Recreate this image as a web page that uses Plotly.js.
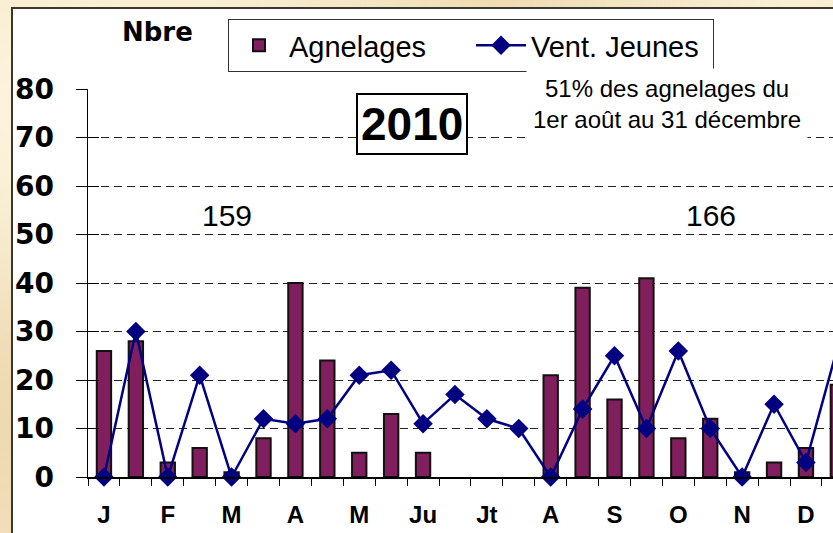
<!DOCTYPE html>
<html>
<head>
<meta charset="utf-8">
<script src="https://cdn.plot.ly/plotly-3.0.1.min.js"></script>
<style>
html,body{margin:0;padding:0;width:833px;height:533px;overflow:hidden;}
body{background:#f6e8c8;
background-image:
 radial-gradient(ellipse at 10% 20%, rgba(255,248,228,0.8) 0%, rgba(255,248,228,0) 40%),
 radial-gradient(ellipse at 5% 80%, rgba(232,210,165,0.7) 0%, rgba(232,210,165,0) 45%),
 radial-gradient(ellipse at 60% 0%, rgba(236,214,170,0.7) 0%, rgba(236,214,170,0) 40%),
 radial-gradient(ellipse at 90% 5%, rgba(250,240,215,0.9) 0%, rgba(250,240,215,0) 35%);}
#frame{position:absolute;left:11px;top:7px;width:822px;height:526px;border-left:2px solid #3a3631;border-top:2px solid #3a3631;background:#fff;}
#chart{width:822px;height:526px;}
</style>
</head>
<body>
<div id="frame"><div id="chart"></div></div>
<script>
// ---- data ----
var months = ["J","F","M","A","M","Ju","Jt","A","S","O","N","D"];
var agnelages = [26,28,3,6,1,8,40,24,5,13,5,null,null,null,21,39,16,41,8,12,1,3,6,19];
var ventJeunes = [0,30,0,21,0,12,11,12,21,22,11,17,12,10,0,14,25,10,26,10,0,15,3,27];
var totals = ["159","166"];

var slots = agnelages.map(function(v,i){return i;});
var monthPos = months.map(function(m,i){return i*2;});

// ---- geometry ----
var W = 822, H = 526;
var ml = 75, mr = 0, mt = 80, mb = 58;
var pw = W - ml - mr, ph = H - mt - mb;
var OX = 13, OY = 9;
function fx(p){return (p - OX - ml)/pw;}
function fy(p){return 1 - (p - OY - mt)/ph;}

var barTrace = {
  type:'bar', name:'Agnelages', x:slots, y:agnelages,
  marker:{color:'#811f5e', line:{color:'#111', width:2}},
  xaxis:'x', yaxis:'y'
};
var lineTrace = {
  type:'scatter', mode:'lines+markers', name:'Vent. Jeunes', x:slots, y:ventJeunes,
  line:{color:'#000080', width:2.5},
  marker:{symbol:'diamond', size:15, color:'#000080'},
  cliponaxis:false,
  xaxis:'x', yaxis:'y2'
};

var layout = {
  width:W, height:H,
  margin:{l:ml, r:mr, t:mt, b:mb, pad:0},
  paper_bgcolor:'#fff', plot_bgcolor:'#fff',
  bargap:0.55,
  showlegend:true,
  legend:{orientation:'h', x:fx(228), xanchor:'left', y:fy(19), yanchor:'top',
    bgcolor:'#fff', bordercolor:'#333', borderwidth:1,
    font:{family:'Liberation Sans, Arial, sans-serif', size:29, color:'#000'},
    itemwidth:50, entrywidth:177, traceorder:'normal'},
  xaxis:{range:[-0.5, 22.91], tickmode:'array', tickvals:monthPos, ticktext:months,
    ticks:'', showgrid:false, zeroline:false, showline:true, linecolor:'#000', linewidth:1.5,
    ticklabelstandoff:16,
    tickfont:{family:'Liberation Sans, Arial, sans-serif', size:24, color:'#000', weight:'bold'},
    minor:{tickmode:'linear', tick0:-0.5, dtick:1, ticks:'outside', ticklen:7, tickcolor:'#000', tickwidth:1, showgrid:false},
    fixedrange:true},
  yaxis:{range:[0,80], tickmode:'linear', tick0:0, dtick:10,
    ticks:'outside', ticklen:11, tickcolor:'#000', tickwidth:1,
    showline:true, linecolor:'#000', linewidth:1.5,
    showgrid:true, gridcolor:'#222', gridwidth:1, griddash:'8px,5px',
    zeroline:false, ticklabelstandoff:16,
    tickfont:{family:'DejaVu Sans, sans-serif', size:28, color:'#000', weight:'bold'},
    fixedrange:true},
  yaxis2:{range:[0,80], overlaying:'y', side:'left', tickmode:'linear', tick0:0, dtick:10,
    ticks:'inside', ticklen:11, tickcolor:'#000', tickwidth:1,
    showticklabels:false, showgrid:false, zeroline:false, showline:false, fixedrange:true},
  annotations:[
    {xref:'paper', yref:'paper', x:fx(157), y:fy(32), text:'<b>Nbre</b>', showarrow:false,
     xanchor:'center', yanchor:'middle',
     font:{family:'DejaVu Sans, sans-serif', size:26, color:'#000'}},
    {xref:'paper', yref:'paper', x:fx(411.5), y:fy(124), text:'<b>2010</b>', showarrow:false,
     xanchor:'center', yanchor:'middle', bgcolor:'#fff', bordercolor:'#000', borderwidth:2, borderpad:3,
     font:{family:'Liberation Sans, Arial, sans-serif', size:46, color:'#000'}},
    {xref:'paper', yref:'paper', x:fx(227), y:fy(215), text:totals[0], showarrow:false,
     xanchor:'center', yanchor:'middle',
     font:{family:'Liberation Sans, Arial, sans-serif', size:30, color:'#000'}},
    {xref:'paper', yref:'paper', x:fx(711), y:fy(215), text:totals[1], showarrow:false,
     xanchor:'center', yanchor:'middle',
     font:{family:'Liberation Sans, Arial, sans-serif', size:30, color:'#000'}},
    {xref:'paper', yref:'paper', x:fx(667), y:fy(104), text:'51% des agnelages du<br>1er août au 31 décembre', showarrow:false,
     xanchor:'center', yanchor:'middle', bgcolor:'#fff', borderpad:6, align:'center',
     font:{family:'Liberation Sans, Arial, sans-serif', size:24, color:'#000'}}
  ]
};

Plotly.newPlot('chart', [barTrace, lineTrace], layout, {displayModeBar:false, staticPlot:true});
</script>
</body>
</html>
